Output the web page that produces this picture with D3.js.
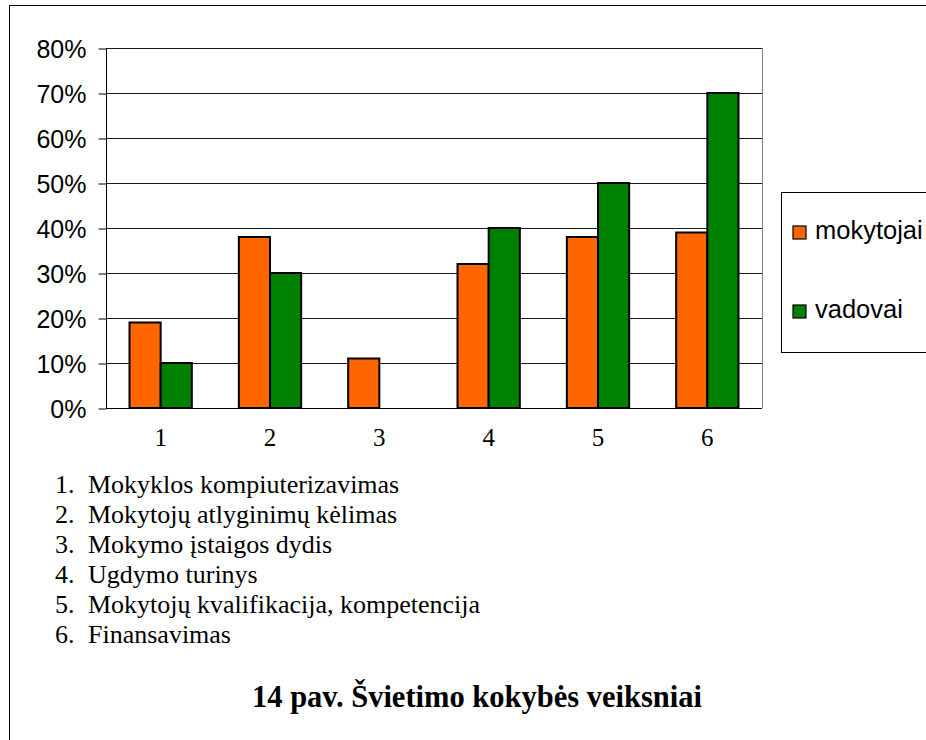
<!DOCTYPE html>
<html>
<head>
<meta charset="utf-8">
<script src="https://cdn.jsdelivr.net/npm/d3@7"></script>
<style>
  html, body { margin: 0; padding: 0; background: #fff; }
  svg { display: block; }
</style>
</head>
<body>
<svg id="chart" width="926" height="740"></svg>
<script>
const categories = ["1", "2", "3", "4", "5", "6"];
const seriesNames = ["mokytojai", "vadovai"];
const mokytojai = [0.19, 0.38, 0.11, 0.32, 0.38, 0.39];
const vadovai = [0.10, 0.30, 0.00, 0.40, 0.50, 0.70];
const yTicks = [0, 0.1, 0.2, 0.3, 0.4, 0.5, 0.6, 0.7, 0.8];
const listItems = [
  "Mokyklos kompiuterizavimas",
  "Mokytojų atlyginimų kėlimas",
  "Mokymo įstaigos dydis",
  "Ugdymo turinys",
  "Mokytojų kvalifikacija, kompetencija",
  "Finansavimas"
];
const titleText = "14 pav. Švietimo kokybės veiksniai";
const colors = ["#FF6600", "#008000"];

const svg = d3.select("#chart");

// outer frame (extends beyond the viewport on right/bottom)
svg.append("rect").attr("x", 9.5).attr("y", 5.5).attr("width", 1000).attr("height", 1000)
  .attr("fill", "none").attr("stroke", "#000").attr("stroke-width", 1);

const plot = { left: 106, right: 762, top: 48, bottom: 408 };

const x0 = d3.scaleBand().domain(categories).range([plot.left, plot.right]).paddingInner(0.43).paddingOuter(0.215);
const x1 = d3.scaleBand().domain(seriesNames).range([0, x0.bandwidth()]);
const y = d3.scaleLinear().domain([0, 0.8]).range([plot.bottom, plot.top]);

// plot area right border
svg.append("line").attr("x1", plot.right + 0.5).attr("x2", plot.right + 0.5)
  .attr("y1", plot.top).attr("y2", plot.bottom).attr("stroke", "#808080");

// gridlines
svg.append("g").selectAll("line").data(yTicks.filter(d => d > 0)).join("line")
  .attr("x1", plot.left).attr("x2", plot.right)
  .attr("y1", d => Math.round(y(d)) + 0.5).attr("y2", d => Math.round(y(d)) + 0.5)
  .attr("stroke", "#1a1a1a").attr("stroke-width", 1);

// y axis
const yAxis = d3.axisLeft(y).tickValues(yTicks).tickFormat(d3.format(".0%")).tickSize(8).tickPadding(12);
const gy = svg.append("g").attr("transform", `translate(${plot.left + 0.5},0.5)`).call(yAxis);
gy.select(".domain").attr("stroke", "#000").attr("d", `M0,${plot.top}V${plot.bottom}`);
gy.selectAll(".tick line").attr("stroke", "#000");
gy.selectAll(".tick text").attr("font-family", "'Liberation Sans', Arial, sans-serif")
  .attr("font-size", 25).attr("fill", "#000").attr("dy", "0.36em");

// x axis
const xAxis = d3.axisBottom(x0).tickSize(0).tickPadding(20);
const gx = svg.append("g").attr("transform", `translate(0,${plot.bottom + 0.5})`).call(xAxis);
gx.select(".domain").attr("stroke", "#000").attr("d", `M${plot.left},0H${plot.right}`);
gx.selectAll(".tick text").attr("font-family", "'Liberation Serif', 'Times New Roman', serif")
  .attr("font-size", 25).attr("fill", "#000");

// bars
const data = categories.map((c, i) => ({ cat: c, vals: [mokytojai[i], vadovai[i]] }));
const groups = svg.append("g").selectAll("g").data(data).join("g")
  .attr("transform", d => `translate(${x0(d.cat)},0)`);
groups.selectAll("rect").data(d => d.vals.map((v, j) => ({ v, s: seriesNames[j], j })).filter(e => e.v > 0))
  .join("rect")
  .attr("x", e => x1(e.s))
  .attr("y", e => y(e.v))
  .attr("width", x1.bandwidth())
  .attr("height", e => y(0) - y(e.v))
  .attr("fill", e => colors[e.j])
  .attr("stroke", "#000").attr("stroke-width", 2);

// legend
const lg = svg.append("g");
lg.append("rect").attr("x", 781.5).attr("y", 192.5).attr("width", 200).attr("height", 160)
  .attr("fill", "#fff").attr("stroke", "#000");
seriesNames.forEach((s, i) => {
  const yy = 226 + i * 79;
  lg.append("rect").attr("x", 793).attr("y", yy).attr("width", 13).attr("height", 13)
    .attr("fill", colors[i]).attr("stroke", "#000").attr("stroke-width", 1.2);
  lg.append("text").attr("x", 815).attr("y", yy + 12.5).text(s)
    .attr("font-family", "'Liberation Sans', Arial, sans-serif").attr("font-size", 25.5).attr("fill", "#000");
});

// numbered list
const lst = svg.append("g").attr("font-family", "'Liberation Serif', 'Times New Roman', serif")
  .attr("font-size", 26).attr("fill", "#000");
listItems.forEach((t, i) => {
  const by = 493 + i * 30;
  lst.append("text").attr("x", 55).attr("y", by).text((i + 1) + ".");
  lst.append("text").attr("x", 88).attr("y", by).text(t);
});

// title
svg.append("text").attr("x", 477).attr("y", 707).attr("text-anchor", "middle")
  .attr("font-family", "'Liberation Serif', 'Times New Roman', serif")
  .attr("font-weight", "bold").attr("font-size", 30.5).attr("fill", "#000").text(titleText);
</script>
</body>
</html>
